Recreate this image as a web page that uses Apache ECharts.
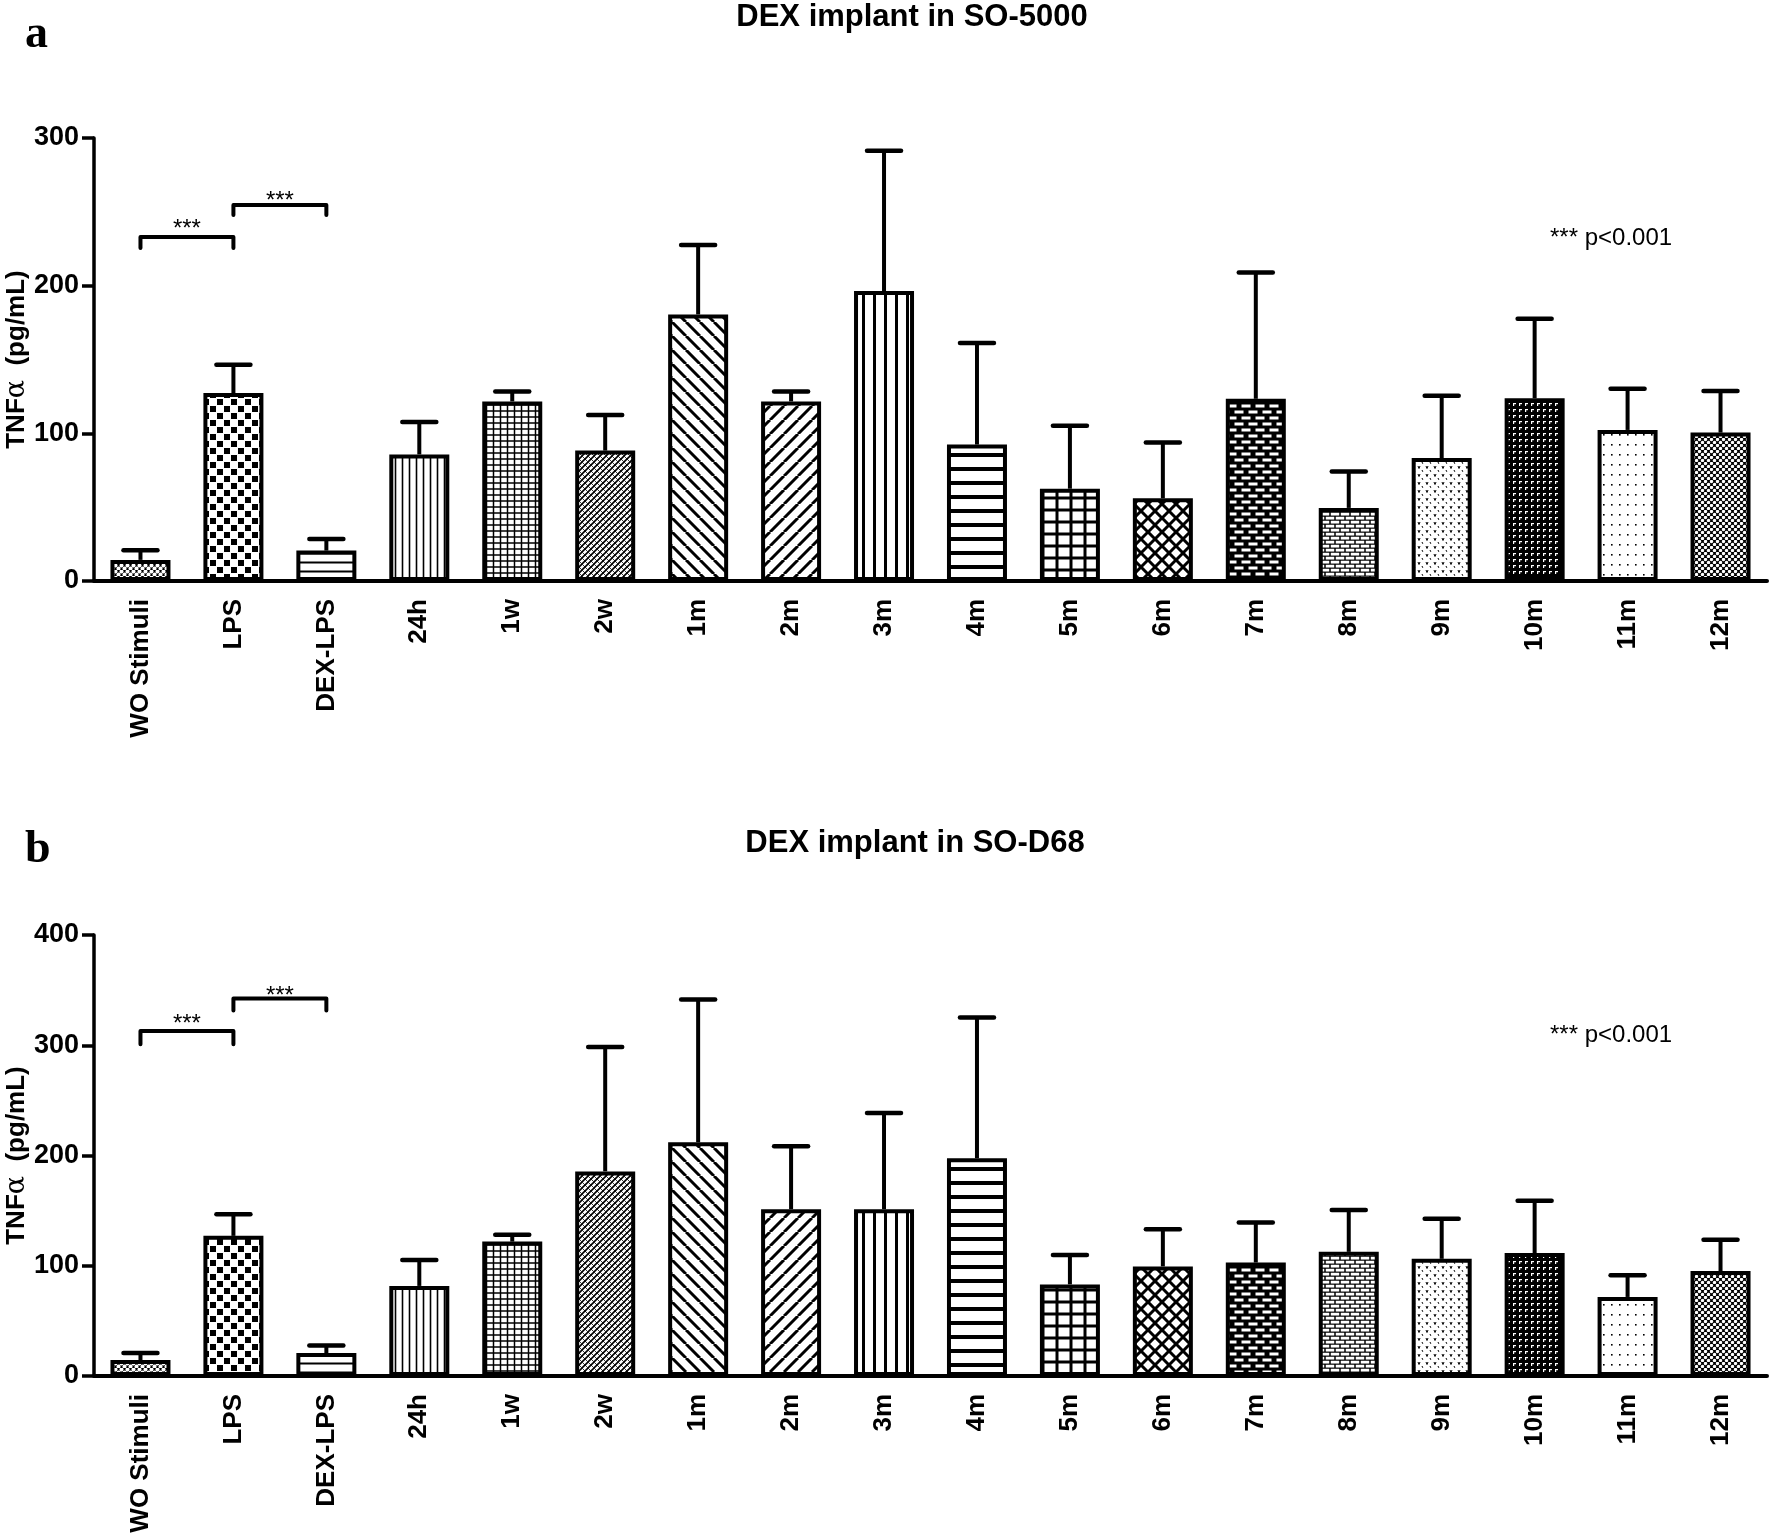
<!DOCTYPE html>
<html><head><meta charset="utf-8">
<script src="https://cdn.jsdelivr.net/npm/echarts@6/dist/echarts.min.js"></script>
<style>html,body{margin:0;padding:0;background:#fff}#c{width:1772px;height:1534px}</style>
</head><body><div id="c"></div>
<script>
// ---------- data ----------
const categories = ['WO Stimuli','LPS','DEX-LPS','24h','1w','2w','1m','2m','3m','4m','5m','6m','7m','8m','9m','10m','11m','12m'];
const titleA = 'DEX implant in SO-5000';
const titleB = 'DEX implant in SO-D68';
const meanA = [14.3,127.3,20.6,85.7,121.6,88.3,180.5,121.6,196.4,92.4,62.5,56.0,123.4,49.5,83.3,123.7,102.3,100.5];
const sdA   = [6.5,19.1,7.8,21.9,6.8,24.2,47.1,6.8,95.0,68.8,42.7,37.8,85.5,24.7,42.2,53.9,27.9,28.1];
const meanB = [14.5,127.1,20.8,81.7,121.9,185.6,212.0,151.3,151.3,197.4,83.1,99.4,102.9,112.6,106.3,111.5,71.7,95.2];
const sdB   = [6.3,19.7,6.9,23.6,6.2,112.9,129.5,57.2,87.3,127.8,26.7,33.6,36.3,38.0,36.4,47.5,19.7,28.4];
const yMaxA = 300, yMaxB = 400, yStep = 100;
// significance brackets: [fromCat, toCat, barValue, dropValue, starValue]
const bracketsA = [[0,1,233.0,225.5,242.4],[1,2,254.6,247.9,261.4]];
const bracketsB = [[0,1,313.0,301.0,324.5],[1,2,342.5,331.5,349.5]];
const sigText = '*** p<0.001';

// ---------- patterns ----------
function mk(w,h,draw,bg){const c=document.createElement('canvas');c.width=w;c.height=h;const g=c.getContext('2d');g.fillStyle=bg||'#fff';g.fillRect(0,0,w,h);g.fillStyle='#000';g.strokeStyle='#000';draw(g,w,h);return {image:c,repeat:'repeat'};}
function hl(g,w,h,lw){g.lineWidth=lw;g.beginPath();g.moveTo(0,h/2);g.lineTo(w,h/2);g.stroke();}
function vl(g,w,h,lw){g.lineWidth=lw;g.beginPath();g.moveTo(w/2,0);g.lineTo(w/2,h);g.stroke();}
function fwd(g,s,lw){g.lineWidth=lw;g.beginPath();for(let k=-1;k<=1;k++){g.moveTo(k*s,s);g.lineTo(k*s+s,0);}g.stroke();}
function bwd(g,s,lw){g.lineWidth=lw;g.beginPath();for(let k=-1;k<=1;k++){g.moveTo(k*s,0);g.lineTo(k*s+s,s);}g.stroke();}
function circles(g,r){g.fillStyle='#fff';[[1.5,1.5],[4.5,4.5],[7.5,1.5],[-1.5,4.5]].forEach(p=>{g.beginPath();g.arc(p[0],p[1],r,0,Math.PI*2);g.fill();});}
function bricks(g,w,h,bw,bh,m){g.fillStyle='#fff';const half=h/2;
  g.fillRect(m,m,bw,bh);
  g.fillRect(-w/2+m,half+m,bw,bh);g.fillRect(w/2+m,half+m,bw,bh);}
const patterns = [
  mk(6,6,g=>circles(g,2.0),'#000'),                         // WO Stimuli
  mk(14,14,g=>{g.fillRect(0,0,6,6);g.fillRect(7,7,6,6);}),    // LPS checker
  mk(9,9,(g,w,h)=>hl(g,w,h,2)),                               // DEX-LPS
  mk(7,7,(g,w,h)=>vl(g,w,h,1.6)),                             // 24h
  mk(7,6,(g,w,h)=>{hl(g,w,h,1.5);vl(g,w,h,1.5);}),            // 1w
  mk(6,6,g=>{fwd(g,6,1.6);g.lineWidth=0.8;g.beginPath();g.moveTo(0,0);g.lineTo(6,6);g.stroke();}), // 2w
  mk(14,14,g=>bwd(g,14,3)),                                   // 1m
  mk(14,14,g=>fwd(g,14,3)),                                   // 2m
  mk(11,11,(g,w,h)=>vl(g,w,h,3)),                             // 3m
  mk(14,14,(g,w,h)=>hl(g,w,h,4)),                             // 4m
  mk(14,12,(g,w,h)=>{hl(g,w,h,3);vl(g,w,h,3);}),              // 5m
  mk(14,14,g=>{fwd(g,14,3);bwd(g,14,3);}),                    // 6m
  mk(14,12,(g,w,h)=>bricks(g,w,h,9,3,2.5),'#000'),            // 7m
  mk(10,8,(g,w,h)=>bricks(g,w,h,8.5,2.8,0.75),'#000'),        // 8m
  mk(8,8,g=>{g.lineWidth=1;g.beginPath();g.moveTo(2,2);g.lineTo(3,4.5);g.lineTo(4,2);g.moveTo(6,6);g.lineTo(6.8,7.8);g.stroke();}), // 9m
  mk(6,6,g=>{g.fillStyle='#fff';g.fillRect(1,1,3,1.2);g.fillRect(1,1,1.2,3);},'#000'), // 10m
  mk(8,10,g=>{g.fillRect(3,4,1.6,1.6);}),                     // 11m
  mk(6,6,g=>circles(g,1.7),'#000')                            // 12m
];

// ---------- helpers ----------
const FONT = 'Liberation Sans, Arial, sans-serif';
function barData(means){return means.map((v,i)=>({value:v,itemStyle:{color:patterns[i]}}));}
function errData(means,sds){return means.map((v,i)=>[i,v,+(v+sds[i]).toFixed(1)]);}
function errRender(params, api){
  const i=api.value(0);
  const base=api.coord([i,api.value(1)]);
  const top=api.coord([i,api.value(2)]);
  return {type:'group',children:[
    {type:'line',shape:{x1:top[0],y1:base[1],x2:top[0],y2:top[1]},style:{stroke:'#000',lineWidth:4}},
    {type:'line',shape:{x1:top[0]-17,y1:top[1],x2:top[0]+17,y2:top[1]},style:{stroke:'#000',lineWidth:4.5,lineCap:'round'}}
  ]};
}
function brRender(params, api){
  const a=api.coord([api.value(0),api.value(2)]);
  const b=api.coord([api.value(1),api.value(2)]);
  const d=api.coord([api.value(0),api.value(3)])[1];
  const s=api.coord([api.value(0),api.value(4)])[1];
  return {type:'group',children:[
    {type:'polyline',shape:{points:[[a[0],d],[a[0],a[1]],[b[0],b[1]],[b[0],d]]},style:{stroke:'#000',lineWidth:4,fill:null,lineJoin:'round',lineCap:'round'}},
    {type:'text',style:{text:'***',x:(a[0]+b[0])/2,y:s+6,align:'center',verticalAlign:'middle',fontSize:24,fontFamily:FONT,fill:'#000'}}
  ]};
}
function xAxis(gi){return {type:'category',gridIndex:gi,data:categories,
  axisLine:{lineStyle:{color:'#000',width:4}},
  axisTick:{alignWithLabel:true,length:12,lineStyle:{color:'#000',width:3.5}},
  axisLabel:{rotate:90,margin:18,color:'#000',fontSize:26,fontWeight:'bold',fontFamily:FONT}};}
function yAxis(gi,max){return {type:'value',gridIndex:gi,min:0,max:max,interval:yStep,
  name:'{b|TNF}{a|α}{b|  (pg/mL)}',nameLocation:'middle',nameGap:64,nameRotate:90,nameMoveOverlap:false,
  nameTextStyle:{rich:{b:{fontSize:26,fontWeight:'bold',fontFamily:FONT,color:'#000'},a:{fontSize:27,fontFamily:'DejaVu Serif',color:'#000'}}},
  splitLine:{show:false},
  axisLine:{show:true,lineStyle:{color:'#000',width:3.5}},
  axisTick:{show:true,length:12,lineStyle:{color:'#000',width:3.5}},
  axisLabel:{margin:15,color:'#000',fontSize:27,fontWeight:'bold',fontFamily:FONT}};}

const chart = echarts.init(document.getElementById('c'),null,{renderer:'canvas'});
chart.setOption({
  animation:false,
  backgroundColor:'#fff',
  title:[
    {text:titleA,left:912,top:2,textAlign:'center',padding:0,textStyle:{fontSize:31,fontWeight:'bold',fontFamily:FONT,color:'#000'}},
    {text:titleB,left:915,top:828,textAlign:'center',padding:0,textStyle:{fontSize:31,fontWeight:'bold',fontFamily:FONT,color:'#000'}}
  ],
  graphic:[
    {type:'text',x:25,y:35,style:{text:'a',fontSize:46,fontWeight:'bold',fontFamily:'Liberation Serif, Times New Roman, serif',fill:'#000',verticalAlign:'middle'}},
    {type:'text',x:25,y:850,style:{text:'b',fontSize:46,fontWeight:'bold',fontFamily:'Liberation Serif, Times New Roman, serif',fill:'#000',verticalAlign:'middle'}},
    {type:'text',x:1550,y:238,style:{text:sigText,fontSize:24,fontFamily:FONT,fill:'#000',verticalAlign:'middle'}},
    {type:'text',x:1550,y:1035,style:{text:sigText,fontSize:24,fontFamily:FONT,fill:'#000',verticalAlign:'middle'}}
  ],
  grid:[
    {left:94,top:138,width:1673,height:443,containLabel:false,outerBoundsMode:'none'},
    {left:94,top:935,width:1673,height:441,containLabel:false,outerBoundsMode:'none'}
  ],
  xAxis:[xAxis(0),xAxis(1)],
  yAxis:[yAxis(0,yMaxA),yAxis(1,yMaxB)],
  series:[
    {type:'bar',xAxisIndex:0,yAxisIndex:0,barWidth:60,data:barData(meanA),itemStyle:{borderColor:'#000',borderWidth:4}},
    {type:'custom',xAxisIndex:0,yAxisIndex:0,renderItem:errRender,encode:{x:0,y:[1,2]},data:errData(meanA,sdA),z:1},
    {type:'custom',xAxisIndex:0,yAxisIndex:0,renderItem:brRender,encode:{x:[0,1],y:[2,3,4]},data:bracketsA,z:3},
    {type:'bar',xAxisIndex:1,yAxisIndex:1,barWidth:60,data:barData(meanB),itemStyle:{borderColor:'#000',borderWidth:4}},
    {type:'custom',xAxisIndex:1,yAxisIndex:1,renderItem:errRender,encode:{x:0,y:[1,2]},data:errData(meanB,sdB),z:1},
    {type:'custom',xAxisIndex:1,yAxisIndex:1,renderItem:brRender,encode:{x:[0,1],y:[2,3,4]},data:bracketsB,z:3}
  ]
});
</script></body></html>
